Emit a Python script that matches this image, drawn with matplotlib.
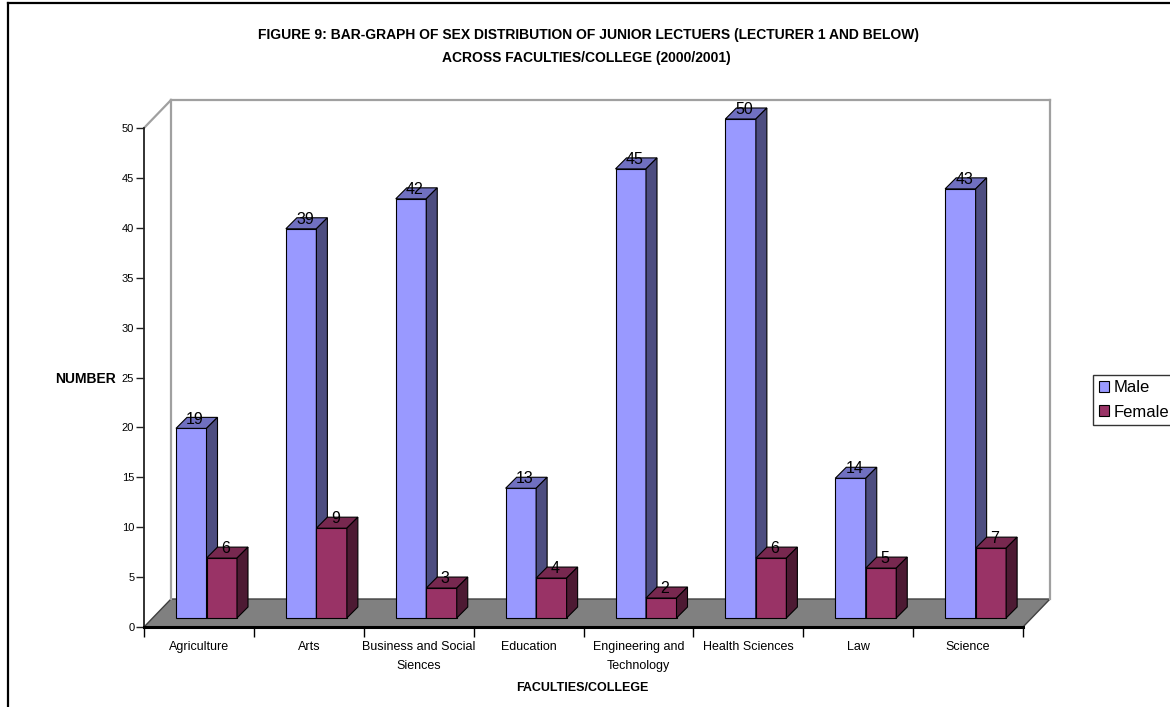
import matplotlib
matplotlib.use("Agg")
import matplotlib.pyplot as plt
from matplotlib.patches import Polygon, Patch
from matplotlib.lines import Line2D
from matplotlib.ticker import FixedLocator

plt.rcParams["font.family"] = ["Liberation Sans", "DejaVu Sans"]

# ---- data -------------------------------------------------------------
faculties = ["Agriculture", "Arts", "Business and Social\nSiences", "Education",
             "Engineering and\nTechnology", "Health Sciences", "Law", "Science"]
male = [19, 39, 42, 13, 45, 50, 14, 43]
female = [6, 9, 3, 4, 2, 6, 5, 7]
series_names = ["Male", "Female"]
y_ticks = [0, 5, 10, 15, 20, 25, 30, 35, 40, 45, 50]

# ---- colours ----------------------------------------------------------
faces = {
    "Male": ("#9999FF", "#7070C0", "#4D4D80"),      # front, top, side
    "Female": ("#993366", "#77284F", "#4D1A33"),
}

W, H = 1170, 707
fig = plt.figure(figsize=(W / 100, H / 100), dpi=100)
ax = fig.add_axes([144 / W, (H - 627) / H, (1023 - 144) / W, (627 - 128) / H])
n = len(faculties)
ax.set_xlim(0, n)
ax.set_ylim(0, y_ticks[-1])

# pixel -> data scale factors for the oblique (pseudo-3D) offsets
px_x = (1023 - 144) / n
px_y = (627 - 128) / y_ticks[-1]
wall_dx, wall_dy = 27 / px_x, 28 / px_y
shift_dx, shift_dy = 9 / px_x, 9 / px_y
depth_dx, depth_dy = 11 / px_x, 11 / px_y
bar_w = 30.5 / px_x
gap_left = 23 / px_x

# ---- walls and floor ---------------------------------------------------
top = y_ticks[-1]
wall_col = "#A0A0A0"
ax.add_patch(Polygon([(0, 0), (wall_dx, wall_dy), (n + wall_dx, wall_dy), (n, 0)],
                     closed=True, facecolor="#808080", edgecolor="#404040",
                     linewidth=1, clip_on=False, zorder=1))
for xs, ys in [([0, wall_dx], [top, top + wall_dy]),
               ([wall_dx, wall_dx], [wall_dy, top + wall_dy]),
               ([wall_dx, n + wall_dx], [top + wall_dy, top + wall_dy]),
               ([n + wall_dx, n + wall_dx], [wall_dy, top + wall_dy])]:
    ax.plot(xs, ys, color=wall_col, linewidth=1.6, clip_on=False, zorder=1.5)


def draw_bar(x0, value, name):
    front, topc, side = faces[name]
    b = shift_dy
    x1 = x0 + bar_w
    y1 = b + value
    kw = dict(closed=True, edgecolor="black", linewidth=0.8, clip_on=False, zorder=3)
    ax.add_patch(Polygon([(x0, b), (x1, b), (x1, y1), (x0, y1)], facecolor=front, **kw))
    ax.add_patch(Polygon([(x0, y1), (x1, y1), (x1 + depth_dx, y1 + depth_dy),
                          (x0 + depth_dx, y1 + depth_dy)], facecolor=topc, **kw))
    ax.add_patch(Polygon([(x1, b), (x1 + depth_dx, b + depth_dy),
                          (x1 + depth_dx, y1 + depth_dy), (x1, y1)], facecolor=side, **kw))
    ax.text(x0 + bar_w / 2 + depth_dx * 0.35, y1 + depth_dy * 0.85, str(value),
            ha="center", va="center", fontsize=11.5, color="black", zorder=4)


for i in range(n):
    x_m = i + gap_left + shift_dx
    draw_bar(x_m, male[i], "Male")
    draw_bar(x_m + bar_w, female[i], "Female")

# ---- axes --------------------------------------------------------------
for s in ["top", "right"]:
    ax.spines[s].set_visible(False)
ax.spines["left"].set_color("#222222")
ax.spines["left"].set_linewidth(1.3)
ax.spines["bottom"].set_color("black")
ax.spines["bottom"].set_linewidth(2.2)
ax.spines["left"].set_zorder(5)
ax.spines["bottom"].set_zorder(5)
ax.set_facecolor("none")

ax.set_yticks(y_ticks)
ax.set_yticklabels([str(t) for t in y_ticks])
ax.tick_params(axis="y", direction="out", length=6, width=1, labelsize=8, pad=1,
               color="#222222")

ax.xaxis.set_major_locator(FixedLocator(list(range(n + 1))))
ax.xaxis.set_minor_locator(FixedLocator([i + 0.5 for i in range(n)]))
ax.tick_params(axis="x", which="major", direction="out", length=7, width=1,
               labelbottom=False)
ax.tick_params(axis="x", which="minor", length=0, pad=10, labelsize=9)
ax.set_xticklabels(faculties, minor=True, linespacing=1.8, va="top")

# ---- text --------------------------------------------------------------
fig.text(588 / W, 1 - 35 / H,
         "FIGURE 9: BAR-GRAPH OF SEX DISTRIBUTION OF JUNIOR LECTUERS (LECTURER 1 AND BELOW)",
         ha="center", va="center", fontsize=10, fontweight="bold")
fig.text(586 / W, 1 - 58 / H, "ACROSS FACULTIES/COLLEGE (2000/2001)",
         ha="center", va="center", fontsize=10, fontweight="bold")
fig.text(582 / W, 1 - 688 / H, "FACULTIES/COLLEGE", ha="center", va="center",
         fontsize=9, fontweight="bold")
fig.text(86 / W, 1 - 379 / H, "NUMBER", ha="center", va="center",
         fontsize=10, fontweight="bold")

# ---- legend ------------------------------------------------------------
handles = [Patch(facecolor=faces[s][0], edgecolor="black", linewidth=0.8) for s in series_names]
leg = fig.legend(handles, series_names, loc="center left",
                 bbox_to_anchor=(1093 / W, 1 - 400 / H), fontsize=12,
                 handlelength=0.6, handleheight=0.6, handletextpad=0.3,
                 labelspacing=0.55, borderpad=0.35, borderaxespad=0,
                 frameon=True, fancybox=False)
leg.get_frame().set_edgecolor("black")
leg.get_frame().set_linewidth(1)

# ---- outer frame -------------------------------------------------------
fig.add_artist(Line2D([8 / W, 8 / W], [0, 1 - 3 / H], color="black", linewidth=1.6,
                      transform=fig.transFigure))
fig.add_artist(Line2D([8 / W, 1], [1 - 3 / H, 1 - 3 / H], color="black", linewidth=1.6,
                      transform=fig.transFigure))

fig.savefig("out.png", dpi=100)
